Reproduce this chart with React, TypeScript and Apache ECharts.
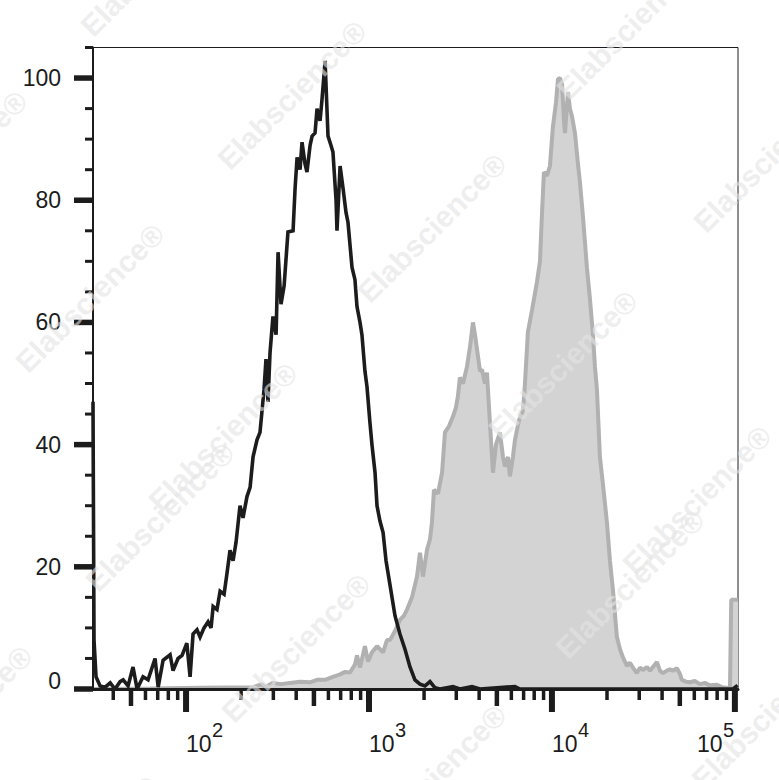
import React, { useEffect, useRef } from "react";
import * as echarts from "echarts";

// ---- axis extents ----
const X_MIN = 31;
const X_MAX = 104000;
const Y_MIN = 0;
const Y_MAX = 105;

// ---- isotype control histogram (black outline) : [fluorescence, count %] ----
const controlData: [number, number][] = [
  [31, 47], [31.4, 8], [32.2, 2], [33.9, 0.5], [36.1, 0.3], [38.5, 1], [40.9, 0], [43.6, 1.2], [45.3, 1.5],
  [48.2, 0.5], [51.3, 3.6], [54, 0], [58.2, 2], [62, 1.5], [67.7, 5], [70.4, 0.3], [74.9, 4.7],
  [81.8, 5.6], [84.9, 3], [90.4, 5], [95.1, 5.5], [101, 7.5], [105.2, 2], [109.2, 9], [114.8, 9.7],
  [119.3, 8.5], [125.4, 10], [131.9, 11], [137, 10], [140.6, 13.5], [147.6, 13], [153.5, 16],
  [161.4, 15.5], [167.5, 19], [173.9, 22.7], [180.7, 21], [187.6, 24], [197.2, 30], [204.8, 28],
  [215.3, 31.5], [223.9, 33], [232.4, 38], [244.3, 40.8], [253.6, 42], [266.8, 49], [273.5, 54],
  [280.5, 47], [287.7, 55], [298.6, 61], [310.5, 58], [318.4, 71.5], [330.4, 63], [343.6, 66],
  [360.6, 74.8], [384.6, 75], [394.5, 82], [404.6, 87], [419.8, 85], [430.5, 89.5], [446.7, 86],
  [458.1, 84.6], [476.4, 89], [488.7, 90.5], [507, 91], [520, 95], [540, 93], [553.6, 96.5],
  [575.4, 102.8], [597, 90.5], [619.4, 89], [635.3, 87.9], [660.6, 80], [668.3, 75], [695, 85.6],
  [721, 82], [748.6, 78], [767.6, 76.4], [807.6, 69], [838, 67], [859.7, 62.6], [893, 60],
  [915, 58], [950.5, 52], [975, 49.5], [1012, 43.6], [1038, 40], [1079, 35.4], [1106, 30],
  [1148, 27.5], [1194, 25.6], [1239, 21], [1303, 17], [1387, 12], [1476, 9], [1573, 6.5],
  [1675, 3.6], [1783, 1.5], [1900, 0.8], [2023, 0.5], [2155, 1.2], [2296, 0.2], [2444, 0],
  [2877, 0.4], [3141, 0], [3656, 0.4], [4046, 0], [6281, 0.4], [6684, 0], [97500, 0], [103500, 0.6],
];

// ---- stained sample histogram (grey filled) ----
const sampleData: [number, number][] = [
  [31, 0], [63.6, 0.1], [119, 0.2], [232, 0.3], [260, 0.8], [270, 0.3], [299, 1], [330, 0.8],
  [370, 1], [420, 1.2], [476, 1.1], [520, 1.5], [575, 1.5], [635, 2], [695, 2.4], [740, 2.8],
  [787, 2.7], [838, 4], [860, 5.5], [893, 3.5], [950, 7], [988, 4.5], [1038, 6], [1106, 7],
  [1194, 6], [1254, 8], [1303, 8], [1387, 9.5], [1476, 11.3], [1553, 12], [1614, 13], [1718, 15],
  [1829, 18.4], [1900, 22.3], [1972, 18.4], [2075, 22.8], [2155, 24.5], [2208, 27.2], [2265, 32.6],
  [2384, 32], [2508, 35.4], [2602, 42], [2735, 43], [2877, 44.6], [2985, 46], [3061, 47.9],
  [3141, 51], [3266, 50], [3434, 52.8], [3565, 56], [3700, 60], [3796, 58], [3894, 55.6],
  [4046, 52], [4142, 52.3], [4303, 50], [4414, 51.8], [4581, 43.6], [4760, 35.4], [4942, 40],
  [5198, 42], [5400, 38], [5537, 36.4], [5750, 38], [5893, 34.8], [6120, 38], [6281, 40.8],
  [6608, 44], [6950, 45.7], [7120, 50], [7390, 58.4], [7780, 62], [8280, 66.6], [8600, 70],
  [8810, 77.4], [9040, 84.6], [9390, 84], [9750, 85.6], [10120, 92], [10520, 96], [10790, 99.8],
  [11070, 100], [11350, 99], [11640, 93], [11780, 91], [12230, 97.7], [12540, 95], [12860, 93.8],
  [13360, 91], [13870, 86], [14220, 83], [14770, 77.4], [15530, 69], [16140, 63.8], [16760, 58],
  [17180, 52.8], [17620, 49], [18290, 38], [19240, 32], [19990, 27.2], [20750, 21], [21550, 16.2],
  [22650, 8.5], [23550, 6.5], [24430, 5.2], [25700, 3.8], [26680, 4.3], [27730, 3.5], [29110, 2.6],
  [30270, 3.5], [31420, 3.1], [33040, 3.6], [34360, 3], [35650, 3.6], [37500, 4.4], [38900, 3],
  [40450, 2.6], [42500, 3], [44150, 3.2], [45820, 3], [48200, 3.4], [50020, 2.5], [51310, 1.5],
  [53950, 1.2], [56740, 1.1], [60400, 1.3], [64400, 0.8], [68500, 1], [72950, 0.6], [79730, 0.7],
  [84880, 0.3], [90350, 0.2], [94000, 0], [95500, 14.6], [104000, 14.6],
];

// ---- ticks & labels ----
const xMajorTicks = [100, 1000, 10000, 100000];
const xLabelExponents = ["2", "3", "4", "5"];
const xMidTicks = [50, 500, 5000, 50000];
const xMinorTicks = [
  40, 60, 70, 80, 90, 200, 300, 400, 600, 700, 800, 900, 2000, 3000, 4000, 6000, 7000, 8000, 9000,
  20000, 30000, 40000, 60000, 70000, 80000, 90000,
];
const yMajorTicks = [0, 20, 40, 60, 80, 100];
const yTickLabels = ["0", "20", "40", "60", "80", "100"];
const yMinorTicks = [5, 10, 15, 25, 30, 35, 45, 50, 55, 65, 70, 75, 85, 90, 95, 105];

const watermarkText = "Elabscience®";
const watermarkCenters: [number, number][] = [
  [155, -38], [292, 95], [432, 228], [563, 365], [697, 500], [-47, 165], [90, 298], [223, 437],
  [631, 25], [768, 158], [160, 517], [296, 648], [630, 584], [-42, 720], [432, 779], [766, 715],
  [84, 850],
];

const INK = "#1c1c1c";
const FONT = '"Liberation Sans", Arial, Helvetica, sans-serif';

function xTickSeries(values: number[], len: number, width: number) {
  return {
    type: "custom",
    silent: true,
    clip: false,
    z: 20,
    data: values.map((v) => [v, Y_MIN]),
    renderItem: (_params: any, api: any) => {
      const p = api.coord([api.value(0), Y_MIN]);
      return {
        type: "rect",
        shape: { x: p[0] - width / 2, y: p[1], width, height: len },
        style: { fill: INK },
      };
    },
  };
}

function yTickSeries(values: number[], len: number, width: number) {
  return {
    type: "custom",
    silent: true,
    clip: false,
    z: 20,
    data: values.map((v) => [X_MIN, v]),
    renderItem: (_params: any, api: any) => {
      const p = api.coord([X_MIN, api.value(1)]);
      return {
        type: "rect",
        shape: { x: p[0] - len, y: p[1] - width / 2, width: len, height: width },
        style: { fill: INK },
      };
    },
  };
}

export default function App() {
  const ref = useRef<HTMLDivElement>(null);

  useEffect(() => {
    if (!ref.current) return;
    const chart = echarts.init(ref.current, undefined, { renderer: "svg" });

    const option: any = {
      animation: false,
      backgroundColor: "#ffffff",
      grid: {
        left: 93,
        top: 47.5,
        right: 41,
        bottom: 91,
        show: true,
        borderColor: INK,
        borderWidth: 1,
        backgroundColor: "transparent",
      },
      xAxis: {
        type: "log",
        logBase: 10,
        min: X_MIN,
        max: X_MAX,
        z: 10,
        axisLine: { show: true, onZero: false, lineStyle: { color: INK, width: 3 } },
        axisTick: { show: false },
        axisLabel: { show: false },
        splitLine: { show: false },
        minorTick: { show: false },
      },
      yAxis: {
        type: "value",
        min: Y_MIN,
        max: Y_MAX,
        z: 10,
        axisLine: { show: true, onZero: false, lineStyle: { color: INK, width: 2 } },
        axisTick: { show: false },
        axisLabel: { show: false },
        splitLine: { show: false },
      },
      graphic: watermarkCenters.map(([cx, cy]) => ({
        type: "text",
        x: cx,
        y: cy,
        rotation: Math.PI / 4,
        z: 100,
        silent: true,
        style: {
          text: watermarkText,
          fill: "rgba(228,228,228,0.6)",
          font: `bold 30px ${FONT}`,
          align: "center",
          verticalAlign: "middle",
        },
      })),
      series: [
        {
          name: "Sample",
          type: "line",
          data: sampleData,
          symbol: "none",
          silent: true,
          z: 2,
          lineStyle: { color: "#b1b1b1", width: 4 },
          areaStyle: { color: "#d3d3d3", opacity: 1 },
        },
        {
          name: "Isotype control",
          type: "line",
          data: controlData,
          symbol: "none",
          silent: true,
          z: 3,
          lineStyle: { color: INK, width: 3.6, join: "miter", miterLimit: 3 },
        },
        xTickSeries(xMajorTicks, 23, 6),
        xTickSeries(xMidTicks, 17, 4.5),
        xTickSeries(xMinorTicks, 11, 3.5),
        yTickSeries(yMajorTicks, 19, 5.5),
        yTickSeries(yMinorTicks, 8, 3),
        {
          type: "custom",
          silent: true,
          clip: false,
          z: 20,
          data: xMajorTicks.map((v) => [v, Y_MIN]),
          renderItem: (params: any, api: any) => {
            const p = api.coord([api.value(0), Y_MIN]);
            const last = params.dataIndex === xMajorTicks.length - 1;
            const x0 = last ? p[0] - 38 : p[0];
            return {
              type: "group",
              children: [
                {
                  type: "text",
                  x: x0,
                  y: p[1] + 55,
                  style: {
                    text: "10",
                    fill: INK,
                    font: `23px ${FONT}`,
                    align: "left",
                    verticalAlign: "middle",
                  },
                },
                {
                  type: "text",
                  x: x0 + 26,
                  y: p[1] + 41,
                  style: {
                    text: xLabelExponents[params.dataIndex],
                    fill: INK,
                    font: `20px ${FONT}`,
                    align: "left",
                    verticalAlign: "middle",
                  },
                },
              ],
            };
          },
        },
        {
          type: "custom",
          silent: true,
          clip: false,
          z: 20,
          data: yMajorTicks.map((v) => [X_MIN, v]),
          renderItem: (params: any, api: any) => {
            const p = api.coord([X_MIN, api.value(1)]);
            const dy = api.value(1) === 0 ? -8 : 0;
            return {
              type: "text",
              x: p[0] - 32,
              y: p[1] + dy,
              style: {
                text: yTickLabels[params.dataIndex],
                fill: INK,
                font: `23px ${FONT}`,
                align: "right",
                verticalAlign: "middle",
              },
            };
          },
        },
      ],
    };

    chart.setOption(option);
    return () => chart.dispose();
  }, []);

  return (
    <div
      ref={ref}
      style={{ position: "absolute", left: 0, top: 0, width: 779, height: 780, background: "#fff" }}
    />
  );
}
